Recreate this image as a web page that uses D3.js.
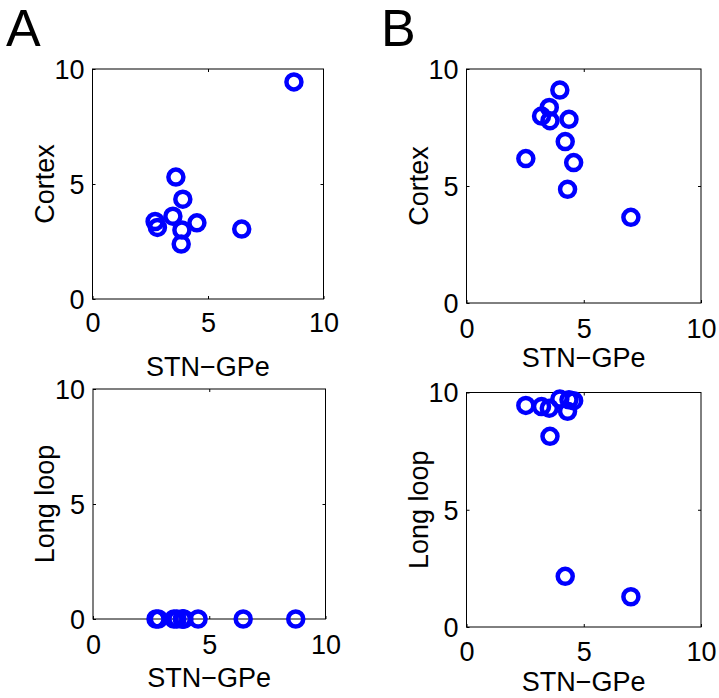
<!DOCTYPE html>
<html>
<head>
<meta charset="utf-8">
<script src="https://cdn.jsdelivr.net/npm/d3@7"></script>
<style>
  html, body { margin: 0; padding: 0; background: #fff; }
  svg text { font-family: "Liberation Sans", Arial, sans-serif; fill: #000; }
</style>
</head>
<body>
<svg id="chart" width="719" height="698"></svg>
<script>
// ---- Data ----
const tickValues = [0, 5, 10];
const xLabel = "STN\u2212GPe";
const yLabelTop = "Cortex";
const yLabelBottom = "Long loop";
const panelLetters = ["A", "B"];

const stnGpeA  = [8.72, 3.61, 3.91, 3.48, 2.71, 2.81, 4.52, 3.87, 3.84, 6.46];
const cortexA  = [9.44, 5.30, 4.34, 3.60, 3.37, 3.11, 3.31, 3.00, 2.39, 3.04];
const longLoopA = [0, 0, 0, 0, 0, 0, 0, 0, 0, 0];

const stnGpeB  = [3.98, 3.53, 3.20, 3.56, 4.37, 4.21, 2.53, 4.57, 4.31, 7.01];
const cortexB  = [9.10, 8.36, 7.99, 7.79, 7.85, 6.90, 6.17, 6.00, 4.86, 3.66];
const longLoopB = [9.72, 9.33, 9.40, 8.13, 9.69, 2.16, 9.45, 9.65, 9.20, 1.29];

// ---- Layout ----
const svg = d3.select("#chart");
const panels = [
  { x: stnGpeA, y: cortexA,   yLabel: yLabelTop,    box: { l: 92.5, r: 323.5, t: 69,  b: 299 },   tickBase: 33, labelBase: 77 },
  { x: stnGpeB, y: cortexB,   yLabel: yLabelTop,    box: { l: 466.5, r: 701, t: 69,  b: 303 },    tickBase: 35, labelBase: 64 },
  { x: stnGpeA, y: longLoopA, yLabel: yLabelBottom, box: { l: 93, r: 325.5, t: 389, b: 619 },     tickBase: 35, labelBase: 68 },
  { x: stnGpeB, y: longLoopB, yLabel: yLabelBottom, box: { l: 466.5, r: 701, t: 392.5, b: 627 },  tickBase: 34, labelBase: 64 }
];

const fontTick = 27, fontLabel = 27;

panels.forEach(p => {
  const b = p.box;
  const xs = d3.scaleLinear().domain([0, 10]).range([b.l, b.r]);
  const ys = d3.scaleLinear().domain([0, 10]).range([b.b, b.t]);
  const g = svg.append("g");

  // box
  g.append("rect").attr("x", b.l).attr("y", b.t)
    .attr("width", b.r - b.l).attr("height", b.b - b.t)
    .attr("fill", "none").attr("stroke", "#000").attr("stroke-width", 1);

  // axes with inward ticks
  const xAxis = d3.axisBottom(xs).tickValues(tickValues).tickSizeInner(-3).tickSizeOuter(0);
  const yAxis = d3.axisLeft(ys).tickValues(tickValues).tickSizeInner(-3).tickSizeOuter(0).tickPadding(8);
  const gx = g.append("g").attr("transform", `translate(0,${b.b})`).call(xAxis);
  const gy = g.append("g").attr("transform", `translate(${b.l},0)`).call(yAxis);
  const gxTop = g.append("g").attr("transform", `translate(0,${b.t})`).call(d3.axisTop(xs).tickValues([5]).tickSizeInner(-3).tickSizeOuter(0).tickFormat(""));
  const gyRight = g.append("g").attr("transform", `translate(${b.r},0)`).call(d3.axisRight(ys).tickValues([5]).tickSizeInner(-3).tickSizeOuter(0).tickFormat(""));
  [gx, gy, gxTop, gyRight].forEach(a => {
    a.select(".domain").remove();
    a.selectAll("line").attr("stroke", "#000");
  });
  gx.selectAll("text").attr("font-size", fontTick).attr("dy", null).attr("y", p.tickBase);
  gy.selectAll("text").attr("font-size", fontTick).attr("dy", "0.35em");

  // axis labels
  g.append("text").attr("x", (b.l + b.r) / 2).attr("y", b.b + p.labelBase)
    .attr("text-anchor", "middle").attr("font-size", fontLabel).text(xLabel);
  g.append("text")
    .attr("transform", `translate(${b.l - 39},${(b.t + b.b) / 2}) rotate(-90)`)
    .attr("text-anchor", "middle").attr("font-size", fontLabel).text(p.yLabel);

  // markers
  g.append("g").selectAll("circle").data(p.x.map((v, i) => [v, p.y[i]])).join("circle")
    .attr("cx", d => xs(d[0])).attr("cy", d => ys(d[1]))
    .attr("r", 7.5).attr("fill", "none").attr("stroke", "#0000ff").attr("stroke-width", 4.5);
});

// panel letters
svg.append("text").attr("x", 6).attr("y", 46).attr("font-size", 52).text(panelLetters[0]);
svg.append("text").attr("x", 381).attr("y", 46).attr("font-size", 52).text(panelLetters[1]);
</script>
</body>
</html>
